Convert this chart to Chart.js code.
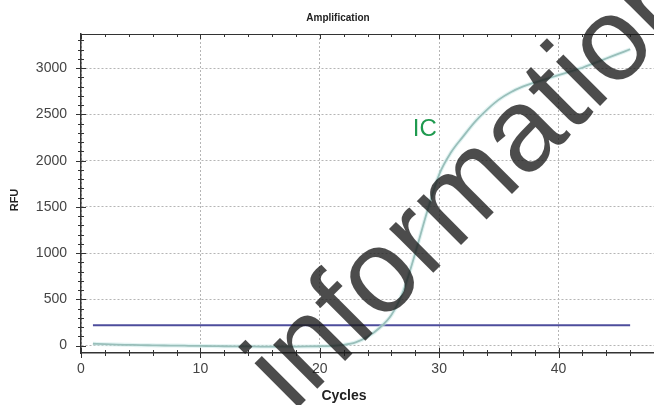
<!DOCTYPE html>
<html>
<head>
<meta charset="utf-8">
<script src="https://cdn.jsdelivr.net/npm/chart.js@4.4.0/dist/chart.umd.min.js"></script>
<style>
  body { margin: 0; background: #fff; }
</style>
</head>
<body>
<canvas id="ampChart" width="654" height="405"></canvas>
<script>
// amplification curve
var cycles = [1, 2, 3, 4, 5, 6, 7, 8, 9, 10, 11, 12, 13, 14, 15, 16, 17, 18, 19, 20,
  21, 22, 23, 24, 25, 26, 27, 28, 29, 30, 31, 32, 33, 34, 35, 36, 37, 38, 39, 40,
  41, 42, 43, 44, 45, 46];
var rfu = [20, 15, 11, 8, 5, 3, 1, 0, -2, -4, -5, -7, -8, -9, -10, -10, -10, -10, -9, -7,
  -3, 8, 35, 95, 190, 330, 590, 1000, 1450, 1850, 2090, 2260, 2420, 2550, 2660, 2740, 2800, 2845, 2885, 2925,
  2965, 3005, 3055, 3105, 3155, 3205];
var thresholdCycles = [1, 46];
var thresholdRfu = [220, 220];
var xTicks = [0, 10, 20, 30, 40];
var yTicks = [0, 500, 1000, 1500, 2000, 2500, 3000];
var xMinorStep = 2;
var yMinorStep = 100;
var icLabel = { text: 'IC', x: 28.8, y: 2335 };

var curvePoints = cycles.map(function(c, i) { return { x: c, y: rfu[i] }; });
var thresholdPoints = thresholdCycles.map(function(c, i) { return { x: c, y: thresholdRfu[i] }; });

var FONT = '"Liberation Sans", Arial, sans-serif';

// tick marks, titles, label and the watermark
var decorations = {
  id: 'decorations',
  afterDraw: function(chart) {
    var ctx = chart.ctx;
    var a = chart.chartArea;
    var xs = chart.scales.x;
    var ys = chart.scales.y;
    ctx.save();

    ctx.strokeStyle = '#333';
    ctx.lineWidth = 1;
    ctx.beginPath();
    ctx.moveTo(a.left, a.top + 0.5);
    ctx.lineTo(a.right, a.top + 0.5);
    for (var v = 0; v <= ys.max; v += yMinorStep) {
      var py = Math.round(ys.getPixelForValue(v)) + 0.5;
      var len = v % 500 === 0 ? 5 : 3;
      ctx.moveTo(a.left - len, py);
      ctx.lineTo(a.left + len, py);
    }
    for (var c = 0; c <= xs.max; c += xMinorStep) {
      var px = Math.round(xs.getPixelForValue(c)) + 0.5;
      var l2 = c % 10 === 0 ? 5 : 3;
      ctx.moveTo(px, a.bottom - l2);
      ctx.lineTo(px, a.bottom + l2);
      ctx.moveTo(px, a.top);
      ctx.lineTo(px, a.top + l2);
    }
    ctx.stroke();

    ctx.fillStyle = '#1f9a4f';
    ctx.font = '24px ' + FONT;
    ctx.textAlign = 'center';
    ctx.textBaseline = 'middle';
    ctx.fillText(icLabel.text, xs.getPixelForValue(icLabel.x), ys.getPixelForValue(icLabel.y));

    ctx.fillStyle = '#222';
    ctx.font = 'bold 10px ' + FONT;
    ctx.fillText('Amplification', 338, 18);
    ctx.font = 'bold 14px ' + FONT;
    ctx.fillText('Cycles', 344, 396);
    ctx.save();
    ctx.translate(15, 200);
    ctx.rotate(-Math.PI / 2);
    ctx.font = 'bold 11px ' + FONT;
    ctx.fillText('RFU', 0, 0);
    ctx.restore();

    ctx.fillStyle = 'rgba(25,25,25,0.78)';
    ctx.font = '118px ' + FONT;
    ctx.textAlign = 'left';
    ctx.textBaseline = 'alphabetic';
    ctx.translate(293, 413);
    ctx.rotate(-Math.PI / 4);
    ctx.fillText('information', 0, 0);

    ctx.restore();
  }
};

var tickLabel = function(value) { return String(value); };

var ctx = document.getElementById('ampChart').getContext('2d');
var myChart = new Chart(ctx, {
  type: 'line',
  data: {
    datasets: [{
      label: 'IC glow',
      data: curvePoints,
      borderColor: 'rgba(195,232,230,0.5)',
      borderWidth: 4,
      pointRadius: 0,
      cubicInterpolationMode: 'monotone'
    }, {
      label: 'IC',
      data: curvePoints,
      borderColor: '#6f968f',
      borderWidth: 1.8,
      pointRadius: 0,
      cubicInterpolationMode: 'monotone'
    }, {
      label: 'Threshold',
      data: thresholdPoints,
      borderColor: '#4d4d9c',
      borderWidth: 2,
      pointRadius: 0
    }]
  },
  options: {
    responsive: false,
    animation: false,
    layout: { padding: { top: 34, right: 0, bottom: 0, left: 0 } },
    plugins: {
      legend: { display: false },
      title: { display: false },
      tooltip: { enabled: false }
    },
    scales: {
      x: {
        type: 'linear',
        min: 0,
        max: 48,
        afterBuildTicks: function(scale) { scale.ticks = xTicks.map(function(v) { return { value: v }; }); },
        afterFit: function(scale) { scale.height = 52; },
        grid: { color: '#b5b5b5', lineWidth: 1, drawTicks: false },
        border: { display: true, color: '#333', width: 1.5, dash: [2, 2] },
        ticks: { padding: 8, color: '#444', font: { family: FONT, size: 14 }, callback: tickLabel }
      },
      y: {
        min: -80,
        max: 3370,
        afterBuildTicks: function(scale) { scale.ticks = yTicks.map(function(v) { return { value: v }; }); },
        afterFit: function(scale) { scale.width = 81; },
        grid: { color: '#b5b5b5', lineWidth: 1, drawTicks: false },
        border: { display: true, color: '#333', width: 1.5, dash: [2, 2] },
        ticks: { padding: 14, color: '#444', font: { family: FONT, size: 14 }, callback: tickLabel }
      }
    }
  },
  plugins: [decorations]
});
</script>
</body>
</html>
